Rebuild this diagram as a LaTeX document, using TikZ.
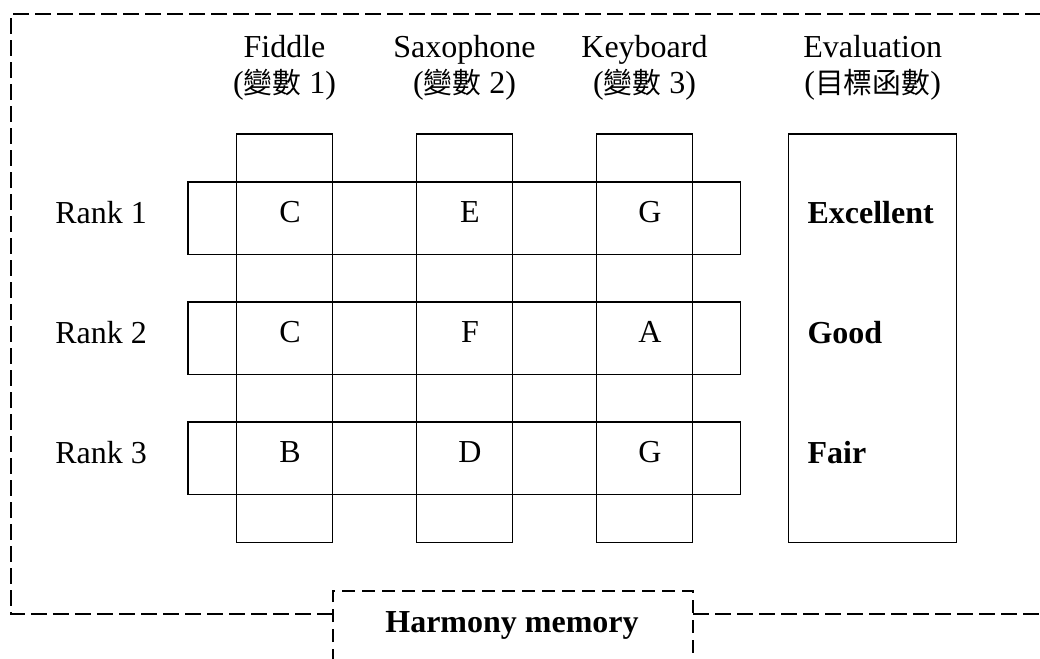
\documentclass[tikz,border=0pt]{standalone}
\usepackage{fontspec}
\setmainfont{Liberation Serif}
\newfontfamily\cjk{Noto Sans CJK TC}[Scale=0.9]
\usetikzlibrary{positioning}

\begin{document}
\begin{tikzpicture}[x=0.5pt, y=-0.5pt, node distance=60pt, font=\fontsize{16}{17}\selectfont]
\tikzstyle{frame} = [dash pattern=on 8pt off 3pt, line width=0.9pt]
\tikzstyle{column} = [rectangle, draw, line width=0.75pt, minimum width=48.2pt, minimum height=204.2pt, inner sep=0pt]
\tikzstyle{band} = [rectangle, draw, line width=0.75pt, minimum width=276.2pt, minimum height=36.2pt, inner sep=0pt]
\tikzstyle{txt} = [inner sep=0pt, yshift=3pt]
\tikzstyle{cell} = [txt, xshift=2.75pt]
\tikzstyle{head} = [align=center, inner sep=0pt, font=\fontsize{16}{18}\selectfont]
\tikzstyle{score} = [txt, anchor=west, font=\fontsize{16}{17}\selectfont\bfseries]

\useasboundingbox (0,0) rectangle (1040,659);

% instruments and evaluation
\node [column] (col1) at (284.5,338.3) {};
\node [column, right of=col1, node distance=90pt] (col2) {};
\node [column, right of=col2, node distance=90pt] (col3) {};
\node [column, minimum width=84pt] (eval) at (872.7,338.3) {};

% ranked harmonies
\node [band] (row1) at (464.2,218.3) {};
\node [band, below of=row1] (row2) {};
\node [band, below of=row2] (row3) {};

\node [head, above=16.5pt of col1] (h1) {Fiddle\\({\cjk 變數} 1)};
\node [head, above=16.5pt of col2] (h2) {Saxophone\\({\cjk 變數} 2)};
\node [head, above=16.5pt of col3] (h3) {Keyboard\\({\cjk 變數} 3)};
\node [head, above=16.5pt of eval] (h4) {Evaluation\\({\cjk 目標函數})};

\node [txt, left=20pt of row1] (rank1) {Rank 1};
\node [txt, left=20pt of row2] (rank2) {Rank 2};
\node [txt, left=20pt of row3] (rank3) {Rank 3};

\node [cell] (c11) at (col1 |- row1) {C};
\node [cell] (c12) at (col2 |- row1) {E};
\node [cell] (c13) at (col3 |- row1) {G};
\node [cell] (c21) at (col1 |- row2) {C};
\node [cell] (c22) at (col2 |- row2) {F};
\node [cell] (c23) at (col3 |- row2) {A};
\node [cell] (c31) at (col1 |- row3) {B};
\node [cell] (c32) at (col2 |- row3) {D};
\node [cell] (c33) at (col3 |- row3) {G};

\node [score, xshift=9.6pt] (ev1) at (eval.west |- row1) {Excellent};
\node [score, xshift=9.6pt] (ev2) at (eval.west |- row2) {Good};
\node [score, xshift=9.6pt] (ev3) at (eval.west |- row3) {Fair};

% memory frame
\coordinate (hml) at (333,614);
\coordinate (hmr) at (693,614);
\draw [frame] (1041,14) -- (11,14) -- (11,614) -- (hml);
\draw [frame] (hmr) -- (1041,614);
\draw [frame, dash pattern=on 6.5pt off 3.5pt] (333,662) -- (333,591) -- (693,591) -- (693,662);
\node [anchor=base, inner sep=0pt, font=\fontsize{16}{17}\selectfont\bfseries] (hm) at (512,632) {Harmony memory};
\end{tikzpicture}
\end{document}
